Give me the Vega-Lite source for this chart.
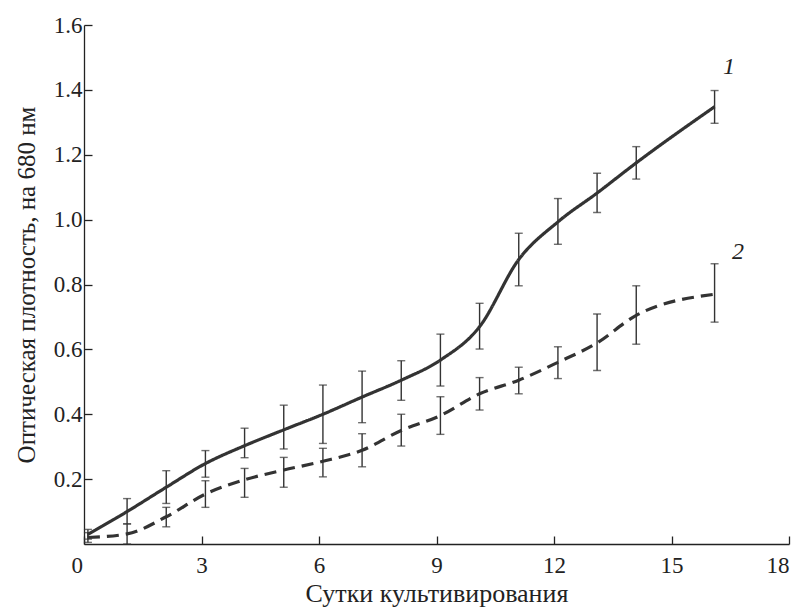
{
  "$schema": "https://vega.github.io/schema/vega-lite/v6.json",
  "autosize": "none",
  "width": 705,
  "height": 519,
  "padding": {"left": 84, "top": 25, "right": 13, "bottom": 65},
  "background": "white",
  "data": {"values": [
    {"series": "1", "day": 0.1, "value": 0.03, "lo": 0.015, "hi": 0.045},
    {"series": "1", "day": 1.1, "value": 0.10, "lo": 0.062, "hi": 0.14},
    {"series": "1", "day": 2.1, "value": 0.175, "lo": 0.125, "hi": 0.226},
    {"series": "1", "day": 3.1, "value": 0.248, "lo": 0.206, "hi": 0.288},
    {"series": "1", "day": 4.1, "value": 0.303, "lo": 0.266, "hi": 0.357},
    {"series": "1", "day": 5.1, "value": 0.352, "lo": 0.293, "hi": 0.428},
    {"series": "1", "day": 6.1, "value": 0.40, "lo": 0.31, "hi": 0.49},
    {"series": "1", "day": 7.1, "value": 0.453, "lo": 0.374, "hi": 0.533},
    {"series": "1", "day": 8.1, "value": 0.505, "lo": 0.443, "hi": 0.565},
    {"series": "1", "day": 9.1, "value": 0.567, "lo": 0.487, "hi": 0.647},
    {"series": "1", "day": 10.1, "value": 0.67, "lo": 0.601, "hi": 0.742},
    {"series": "1", "day": 11.1, "value": 0.877, "lo": 0.796, "hi": 0.958},
    {"series": "1", "day": 12.1, "value": 0.993, "lo": 0.924, "hi": 1.065},
    {"series": "1", "day": 13.1, "value": 1.082, "lo": 1.022, "hi": 1.143},
    {"series": "1", "day": 14.1, "value": 1.175, "lo": 1.125, "hi": 1.225},
    {"series": "1", "day": 16.1, "value": 1.348, "lo": 1.297, "hi": 1.398},
    {"series": "2", "day": 0.1, "value": 0.02, "lo": 0.005, "hi": 0.035},
    {"series": "2", "day": 1.1, "value": 0.031, "lo": 0.0, "hi": 0.062},
    {"series": "2", "day": 2.1, "value": 0.084, "lo": 0.053, "hi": 0.113},
    {"series": "2", "day": 3.1, "value": 0.154, "lo": 0.113, "hi": 0.195},
    {"series": "2", "day": 4.1, "value": 0.198, "lo": 0.144, "hi": 0.233},
    {"series": "2", "day": 5.1, "value": 0.228, "lo": 0.175, "hi": 0.267},
    {"series": "2", "day": 6.1, "value": 0.255, "lo": 0.207, "hi": 0.295},
    {"series": "2", "day": 7.1, "value": 0.289, "lo": 0.238, "hi": 0.34},
    {"series": "2", "day": 8.1, "value": 0.35, "lo": 0.302, "hi": 0.40},
    {"series": "2", "day": 9.1, "value": 0.396, "lo": 0.338, "hi": 0.454},
    {"series": "2", "day": 10.1, "value": 0.463, "lo": 0.413, "hi": 0.513},
    {"series": "2", "day": 11.1, "value": 0.505, "lo": 0.463, "hi": 0.545},
    {"series": "2", "day": 12.1, "value": 0.56, "lo": 0.51, "hi": 0.608},
    {"series": "2", "day": 13.1, "value": 0.62, "lo": 0.535, "hi": 0.709},
    {"series": "2", "day": 14.1, "value": 0.705, "lo": 0.616, "hi": 0.796},
    {"series": "2", "day": 16.1, "value": 0.77, "lo": 0.684, "hi": 0.864}
  ]},
  "layer": [
    {
      "mark": {"type": "line", "interpolate": "monotone", "strokeWidth": 3.2, "color": "#333333", "clip": false},
      "encoding": {
        "x": {"field": "day", "type": "quantitative",
          "scale": {"domain": [0, 18], "nice": false, "zero": false},
          "axis": {"title": "Сутки культивирования", "values": [0, 3, 6, 9, 12, 15, 18],
            "labelOffset": {"condition": {"test": "datum.value === 0", "value": -13}, "value": 0}}},
        "y": {"field": "value", "type": "quantitative",
          "scale": {"domain": [0, 1.6], "nice": false},
          "axis": {"title": "Оптическая плотность, на 680 нм", "values": [0.2, 0.4, 0.6, 0.8, 1.0, 1.2, 1.4, 1.6], "format": ".1f"}},
        "strokeDash": {"field": "series", "type": "nominal",
          "scale": {"domain": ["1", "2"], "range": [[1, 0], [12, 7]]}, "legend": null}
      }
    },
    {
      "mark": {"type": "rule", "strokeWidth": 1.4, "color": "#333333"},
      "encoding": {
        "x": {"field": "day", "type": "quantitative"},
        "y": {"field": "lo", "type": "quantitative"},
        "y2": {"field": "hi"}
      }
    },
    {
      "mark": {"type": "tick", "orient": "horizontal", "size": 8, "thickness": 1.4, "color": "#333333"},
      "encoding": {
        "x": {"field": "day", "type": "quantitative"},
        "y": {"field": "lo", "type": "quantitative"}
      }
    },
    {
      "mark": {"type": "tick", "orient": "horizontal", "size": 8, "thickness": 1.4, "color": "#333333"},
      "encoding": {
        "x": {"field": "day", "type": "quantitative"},
        "y": {"field": "hi", "type": "quantitative"}
      }
    },
    {
      "data": {"values": [
        {"label": "1", "lx": 16.47, "ly": 1.47},
        {"label": "2", "lx": 16.7, "ly": 0.9}
      ]},
      "mark": {"type": "text", "font": "Liberation Serif", "fontStyle": "italic", "fontSize": 24, "color": "#222222", "align": "center", "baseline": "middle"},
      "encoding": {
        "x": {"field": "lx", "type": "quantitative"},
        "y": {"field": "ly", "type": "quantitative"},
        "text": {"field": "label"}
      }
    }
  ],
  "config": {
    "view": {"stroke": null},
    "axis": {
      "grid": false,
      "domainColor": "#222222",
      "domainWidth": 1.3,
      "tickColor": "#222222",
      "tickWidth": 1.3,
      "tickSize": -8,
      "labelFont": "Liberation Serif",
      "labelFontSize": 23,
      "labelColor": "#222222",
      "titleFont": "Liberation Serif",
      "titleFontWeight": "normal",
      "titleColor": "#222222"
    },
    "axisX": {"labelPadding": 18, "titlePadding": 3, "titleFontSize": 26},
    "axisY": {"labelPadding": 10, "titlePadding": 14, "titleFontSize": 25}
  }
}
